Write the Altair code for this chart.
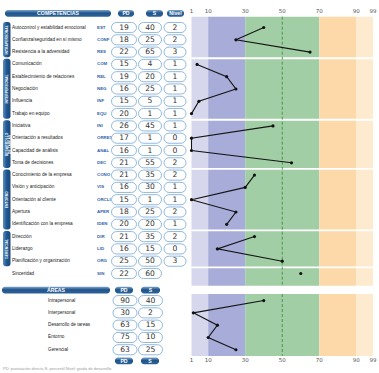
import altair as alt
import pandas as pd

W, H = 379, 373

# ---------------------------------------------------------------- data
comp_names = [
    "Autocontrol y estabilidad emocional", "Confianza/seguridad en sí mismo",
    "Resistencia a la adversidad",
    "Comunicación", "Establecimiento de relaciones", "Negociación", "Influencia",
    "Trabajo en equipo",
    "Iniciativa", "Orientación a resultados", "Capacidad de análisis",
    "Toma de decisiones",
    "Conocimiento de la empresa", "Visión y anticipación", "Orientación al cliente",
    "Apertura", "Identificación con la empresa",
    "Dirección", "Liderazgo", "Planificación y organización",
    "Sinceridad",
]
comp_codes = ["EST", "CONF", "RES", "COM", "REL", "NEG", "INF", "EQU", "INI", "ORRES",
              "ANAL", "DEC", "CONO", "VIS", "ORCLI", "APER", "IDEN", "DIR", "LID", "ORG",
              "SIN"]
comp_pd = [19, 18, 22, 15, 19, 16, 15, 20, 26, 17, 16, 21, 21, 16, 15, 18, 20, 21, 16, 25, 22]
comp_s = [40, 25, 65, 4, 20, 25, 5, 1, 45, 1, 1, 55, 35, 30, 1, 25, 20, 35, 15, 50, 60]
comp_nivel = [2, 2, 3, 1, 1, 1, 1, 1, 1, 0, 0, 2, 2, 1, 1, 2, 1, 2, 0, 3, None]

group_labels = ["INTRAPERSONAL", "INTERPERSONAL", "DESARROLLO\nDE TAREAS", "ENTORNO", "GERENCIAL"]
group_sizes = [3, 5, 4, 5, 3]          # the last row (Sinceridad) stands alone

area_names = ["Intrapersonal", "Interpersonal", "Desarrollo de tareas", "Entorno", "Gerencial"]
area_pd = [90, 30, 63, 75, 63]
area_s = [40, 2, 15, 10, 25]

tick_values = [1, 10, 30, 50, 70, 90, 99]
band_edges = [1, 10, 30, 70, 90, 99]
band_names = ["muy bajo", "bajo", "medio", "alto", "muy alto"]

note_text = "PD: puntuación directa   S: percentil   Nivel: grado de desarrollo"

# ---------------------------------------------------------------- layout
ROW_PX, ROW0_PX = 12.3, 27.5            # row pitch and first row position
Y_TOP, Y_BOT = -ROW0_PX / ROW_PX, (H - ROW0_PX) / ROW_PX

HEAD_ROW = -1.15
TOP_PANEL = (-0.88, 21.0)
AREA_HEAD = 21.35
AREA_ROW0 = 22.2
AREA_PANEL = (21.67, 26.7)
AXIS_ROWS = (-1.36, 27.05)
FOOT_ROW = 27.1
NOTE_ROW = 27.8

NAME_X, CODE_X, AREA_NAME_X = 12, 97, 48
TAB_X = (3, 10.5)
CELL = {"PD": (124, 25), "S": (150, 23), "Nivel": (175, 22)}
AREA_CELL = {"PD": (125, 24), "S": (150.5, 24)}
HEADS = [("COMPETENCIAS", 5, 111, HEAD_ROW), ("PD", 118, 134, HEAD_ROW),
         ("S", 146, 163, HEAD_ROW), ("Nivel", 167, 184, HEAD_ROW),
         ("ÁREAS", 2, 110, AREA_HEAD), ("PD", 115, 133, AREA_HEAD),
         ("S", 141, 160, AREA_HEAD),
         ("PD", 115, 133, FOOT_ROW), ("S", 141, 159, FOOT_ROW)]

TABLE_X = alt.Scale(domain=[0, W], range=[0, W], nice=False, zero=False)
PCT_X = alt.Scale(domain=[1, 99], range=[191.5, 373], nice=False, zero=False)
ROW_Y = alt.Scale(domain=[Y_TOP, Y_BOT], range=[0, H], nice=False, zero=False)


def tx(f):
    return alt.X(f"{f}:Q", scale=TABLE_X, axis=None)


def px(f):
    return alt.X(f"{f}:Q", scale=PCT_X, axis=None)


def ry(f):
    return alt.Y(f"{f}:Q", scale=ROW_Y, axis=None)


NAVY = {"gradient": "linear", "x1": 0, "x2": 0, "y1": 0, "y2": 1,
        "stops": [{"offset": 0, "color": "#7aa4cc"}, {"offset": 0.45, "color": "#21548a"},
                  {"offset": 1, "color": "#2c6399"}]}
TAB_FILL = {"gradient": "linear", "x1": 0, "x2": 1, "y1": 0, "y2": 0,
            "stops": [{"offset": 0, "color": "#5b8fc2"}, {"offset": 0.5, "color": "#1f568e"},
                      {"offset": 1, "color": "#1a4a7c"}]}

# ---------------------------------------------------------------- tables
groups = []
for g, n in enumerate(group_sizes):
    groups += [g] * n
groups += [len(group_sizes)] * (len(comp_names) - len(groups))

comp = pd.DataFrame({"name": comp_names, "code": comp_codes, "s": comp_s,
                     "row": list(range(len(comp_names))), "grp": groups})
areas = pd.DataFrame({"name": area_names, "s": area_s,
                      "row": [AREA_ROW0 + j for j in range(len(area_names))], "grp": 99})
profile = pd.concat([comp[["s", "row", "grp"]], areas[["s", "row", "grp"]]])

cells = []
for i in range(len(comp_names)):
    vals = {"PD": comp_pd[i], "S": comp_s[i], "Nivel": comp_nivel[i]}
    for col, (cx, w) in CELL.items():
        if vals[col] is None:
            continue
        cells.append({"xc": cx, "x0": cx - w / 2, "x1": cx + w / 2, "row": i,
                      "y0": i - 0.41, "y1": i + 0.41, "txt": str(vals[col])})
for j in range(len(area_names)):
    vals = {"PD": area_pd[j], "S": area_s[j]}
    r = AREA_ROW0 + j
    for col, (cx, w) in AREA_CELL.items():
        cells.append({"xc": cx, "x0": cx - w / 2, "x1": cx + w / 2, "row": r,
                      "y0": r - 0.41, "y1": r + 0.41, "txt": str(vals[col])})
cells = pd.DataFrame(cells)

heads = pd.DataFrame([{"txt": t, "x0": a, "x1": b, "xc": (a + b) / 2, "row": r,
                       "y0": r - 0.27, "y1": r + 0.27} for t, a, b, r in HEADS])

tabs, start = [], 0
for lab, n in zip(group_labels, group_sizes):
    a, b = start, start + n - 1
    tabs.append({"txt": lab, "x0": TAB_X[0], "x1": TAB_X[1], "xc": sum(TAB_X) / 2,
                 "y0": a - 0.45, "y1": b + 0.42, "row": (a + b) / 2})
    start += n
tabs = pd.DataFrame(tabs)

bands = []
for lo_row, hi_row in (TOP_PANEL, AREA_PANEL):
    for k, nm in enumerate(band_names):
        bands.append({"lo": band_edges[k], "hi": band_edges[k + 1], "band": nm,
                      "y0": lo_row, "y1": hi_row})
bands = pd.DataFrame(bands)

seps, acc = [], 0
for n in group_sizes:
    acc += n
    seps.append({"row": acc - 0.5, "lo": 1, "hi": 99})
seps = pd.DataFrame(seps)

mid = pd.DataFrame([{"x": 50, "y0": TOP_PANEL[0], "y1": TOP_PANEL[1]},
                    {"x": 50, "y0": AREA_PANEL[0], "y1": AREA_PANEL[1]}])

ticks = pd.DataFrame([{"v": v, "row": r, "txt": str(v)} for r in AXIS_ROWS for v in tick_values])

note = pd.DataFrame([{"x": 3, "row": NOTE_ROW, "txt": note_text}])

# ---------------------------------------------------------------- profile side
band_layer = alt.Chart(bands).mark_rect().encode(
    x=px("lo"), x2="hi", y=ry("y0"), y2="y1",
    color=alt.Color("band:N", legend=None,
                    scale=alt.Scale(domain=band_names,
                                    range=["#d6d7ed", "#a8acd8", "#a1cea5", "#fdd9aa", "#feeacf"])))
sep_layer = alt.Chart(seps).mark_rule(color="white", strokeWidth=1.8).encode(
    x=px("lo"), x2="hi", y=ry("row"))
mid_layer = alt.Chart(mid).mark_rule(color="#3f8f42", strokeWidth=0.9, strokeDash=[3, 2]).encode(
    x=px("x"), y=ry("y0"), y2="y1")
line_layer = alt.Chart(profile).mark_line(color="#151515", strokeWidth=1.1).encode(
    x=px("s"), y=ry("row"), detail="grp:N", order="row:Q")
dot_layer = alt.Chart(profile).mark_circle(size=10, color="#111111", opacity=1).encode(
    x=px("s"), y=ry("row"))
tick_layer = alt.Chart(ticks).mark_text(fontSize=5.5, color="#555555", font="DejaVu Sans").encode(
    x=px("v"), y=ry("row"), text="txt:N")

# ---------------------------------------------------------------- table side
head_rect = alt.Chart(heads).mark_rect(cornerRadius=3, fill=NAVY).encode(
    x=tx("x0"), x2="x1", y=ry("y0"), y2="y1")
head_text = alt.Chart(heads).mark_text(fontSize=5.2, color="white", font="Liberation Sans",
                                       fontWeight="bold").encode(
    x=tx("xc"), y=ry("row"), text="txt:N")
tab_rect = alt.Chart(tabs).mark_rect(cornerRadius=2.5, fill=TAB_FILL).encode(
    x=tx("x0"), x2="x1", y=ry("y0"), y2="y1")
tab_text = alt.Chart(tabs).mark_text(angle=270, fontSize=3.4, lineHeight=3.6, lineBreak="\n",
                                     color="white", font="Liberation Sans",
                                     fontWeight="bold").encode(
    x=tx("xc"), y=ry("row"), text="txt:N")
name_text = alt.Chart(comp.assign(x=NAME_X)).mark_text(
    align="left", fontSize=4.7, color="#222222", font="Liberation Sans").encode(
    x=tx("x"), y=ry("row"), text="name:N")
code_text = alt.Chart(comp.assign(x=CODE_X)).mark_text(
    align="left", fontSize=4.4, color="#2f62ad", font="Liberation Sans", fontWeight="bold").encode(
    x=tx("x"), y=ry("row"), text="code:N")
area_text = alt.Chart(areas.assign(x=AREA_NAME_X)).mark_text(
    align="left", fontSize=4.7, color="#222222", font="Liberation Sans").encode(
    x=tx("x"), y=ry("row"), text="name:N")
cell_rect = alt.Chart(cells).mark_rect(cornerRadius=5, fill="white", stroke="#86b1da",
                                       strokeWidth=0.9).encode(
    x=tx("x0"), x2="x1", y=ry("y0"), y2="y1")
cell_text = alt.Chart(cells).mark_text(fontSize=7.6, color="#333333", font="DejaVu Sans").encode(
    x=tx("xc"), y=ry("row"), text="txt:N")
note_layer = alt.Chart(note).mark_text(align="left", fontSize=4, color="#9a9a9a",
                                       font="Liberation Sans").encode(
    x=tx("x"), y=ry("row"), text="txt:N")

chart = alt.layer(
    band_layer, sep_layer, mid_layer, line_layer, dot_layer, tick_layer,
    head_rect, head_text, tab_rect, tab_text, name_text, code_text, area_text,
    cell_rect, cell_text, note_layer,
).resolve_scale(x="independent").properties(
    width=W, height=H, padding=0, autosize="none", background="white"
).configure_view(stroke=None)

chart.save("out.html", embed_options={"renderer": "svg", "actions": False})
